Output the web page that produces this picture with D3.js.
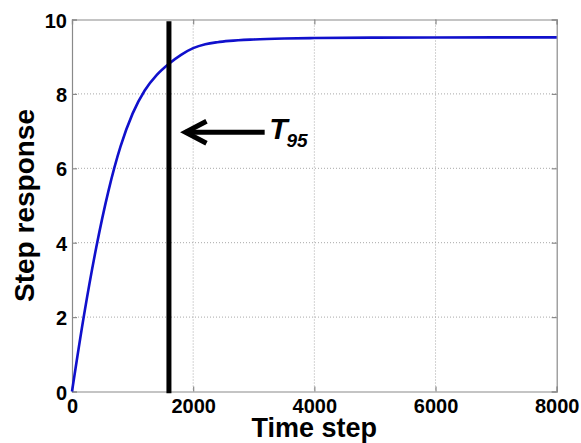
<!DOCTYPE html>
<html>
<head>
<meta charset="utf-8">
<script src="https://cdn.jsdelivr.net/npm/d3@7"></script>
<style>
  html, body { margin: 0; padding: 0; background: #fff; }
  svg { display: block; }
  text { font-family: "Liberation Sans", Arial, Helvetica, sans-serif; font-weight: bold; fill: #000; }
</style>
</head>
<body>
<svg id="chart" width="581" height="443"></svg>
<script>
// ---- data ----
const timeSteps = [0, 200, 400, 600, 800, 1000, 1200, 1400, 1600, 1800, 2000, 2200, 2400, 2600, 3000, 3500, 4000, 5000, 6000, 8000];
const response  = [0, 2.07, 3.87, 5.38, 6.58, 7.47, 8.09, 8.51, 8.81, 9.05, 9.23, 9.335, 9.39, 9.425, 9.463, 9.489, 9.502, 9.514, 9.518, 9.52];
const xTicks = [0, 2000, 4000, 6000, 8000];
const yTicks = [0, 2, 4, 6, 8, 10];
const t95 = 1600;
const arrowTip = 1840, arrowTail = 3180, arrowLevel = 6.97, labelStart = 3255;
const xLabel = "Time step";
const yLabel = "Step response";

// ---- layout ----
const svg = d3.select("#chart");
const L = 72, R = 556.7, T = 19.5, B = 391.5;
const x = d3.scaleLinear().domain([0, 8000]).range([L, R]);
const y = d3.scaleLinear().domain([0, 10]).range([B, T]);

// grid
const grid = svg.append("g");
grid.selectAll(".gx").data(xTicks.slice(1, -1)).join("line")
  .attr("x1", d => x(d)).attr("x2", d => x(d)).attr("y1", T).attr("y2", B)
  .attr("stroke", "#a8a8a8").attr("stroke-width", 1).attr("stroke-dasharray", "1,2");
grid.selectAll(".gy").data(yTicks.slice(1, -1)).join("line")
  .attr("x1", L).attr("x2", R).attr("y1", d => y(d)).attr("y2", d => y(d))
  .attr("stroke", "#a8a8a8").attr("stroke-width", 1).attr("stroke-dasharray", "1,2");

// axes (Matlab style: inward ticks on all sides)
const axCol = "#8a8a8a";
const gB = svg.append("g").attr("transform", `translate(0,${B})`)
  .call(d3.axisBottom(x).tickValues(xTicks).tickSize(-5).tickPadding(8).tickFormat(d3.format("d")));
const gT = svg.append("g").attr("transform", `translate(0,${T})`)
  .call(d3.axisTop(x).tickValues(xTicks).tickSize(-5).tickFormat(""));
const gL = svg.append("g").attr("transform", `translate(${L},0)`)
  .call(d3.axisLeft(y).tickValues(yTicks).tickSize(-5).tickPadding(5).tickFormat(d3.format("d")));
const gR = svg.append("g").attr("transform", `translate(${R},0)`)
  .call(d3.axisRight(y).tickValues(yTicks).tickSize(-5).tickFormat(""));
[gB, gT, gL, gR].forEach(g => {
  g.select(".domain").attr("stroke", axCol).attr("stroke-width", 1.2);
  g.selectAll(".tick line").attr("stroke", axCol).attr("stroke-width", 1.2);
  g.selectAll("text").attr("font-size", 20).attr("font-family", null).attr("fill", "#000");
});
gB.selectAll("text").attr("dy", "0.71em").attr("y", 7);
gL.selectAll("text").attr("dy", "0.38em").attr("x", -5);

// step response curve
const line = d3.line().x((d, i) => x(timeSteps[i])).y(d => y(d)).curve(d3.curveMonotoneX);
svg.append("path").datum(response)
  .attr("d", line)
  .attr("fill", "none").attr("stroke", "#1010cc").attr("stroke-width", 2.6);

// T95 vertical line
svg.append("line")
  .attr("x1", x(t95)).attr("x2", x(t95))
  .attr("y1", y(9.95)).attr("y2", y(-0.05))
  .attr("stroke", "#000").attr("stroke-width", 5);

// arrow
const ay = y(arrowLevel);
svg.append("line")
  .attr("x1", x(arrowTip) + 2).attr("x2", x(arrowTail))
  .attr("y1", ay).attr("y2", ay)
  .attr("stroke", "#000").attr("stroke-width", 5);
svg.append("path")
  .attr("d", `M${x(arrowTip) + 23},${ay - 11} L${x(arrowTip) + 2},${ay} L${x(arrowTip) + 23},${ay + 11}`)
  .attr("fill", "none").attr("stroke", "#000").attr("stroke-width", 5)
  .attr("stroke-linejoin", "miter");

// T95 label
const lab = svg.append("text")
  .attr("x", x(labelStart)).attr("y", ay + 6.6)
  .attr("font-style", "italic");
lab.append("tspan").attr("font-size", 30).text("T");
lab.append("tspan").attr("font-size", 19).attr("dx", -1).attr("dy", 8.4).text("95");

// axis labels
svg.append("text")
  .attr("x", (L + R) / 2).attr("y", 436.5)
  .attr("text-anchor", "middle").attr("font-size", 27)
  .text(xLabel);
svg.append("text")
  .attr("transform", `translate(34,${(T + B) / 2}) rotate(-90)`)
  .attr("text-anchor", "middle").attr("font-size", 28)
  .text(yLabel);
</script>
</body>
</html>
